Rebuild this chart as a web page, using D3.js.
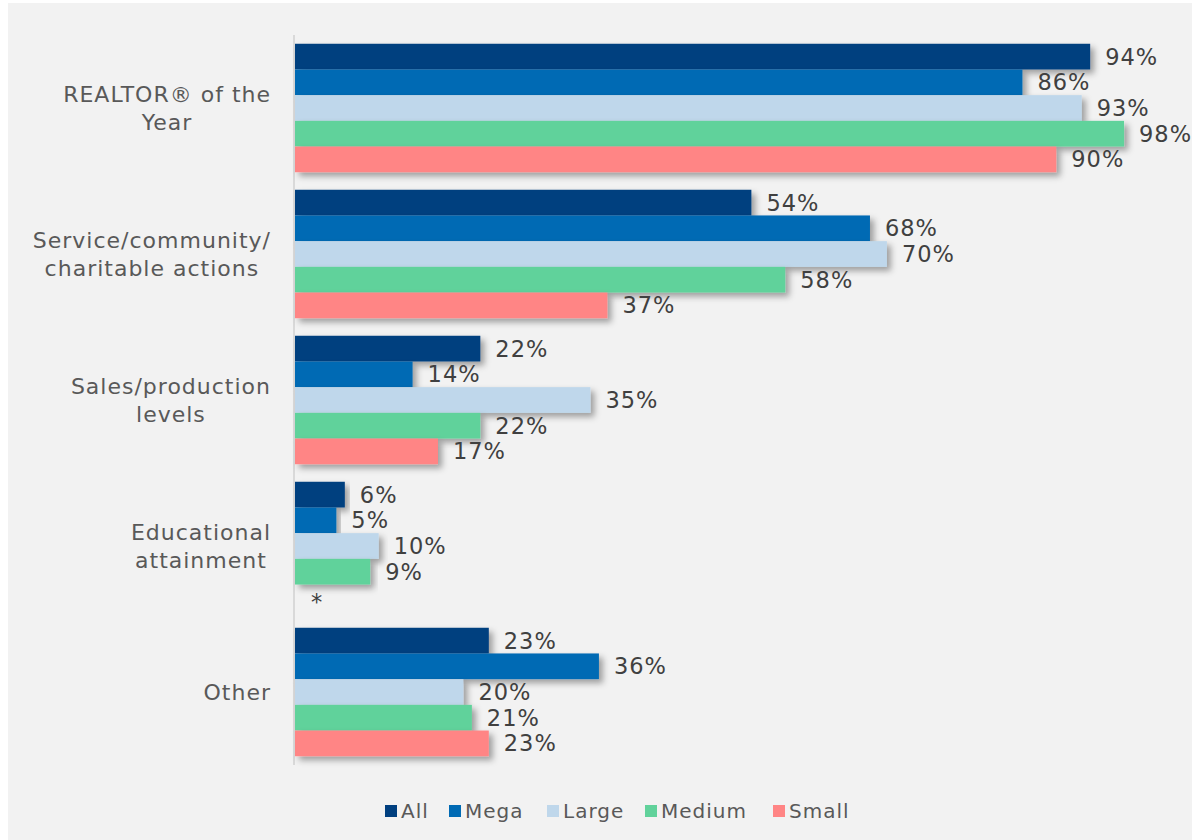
<!DOCTYPE html>
<html>
<head>
<meta charset="utf-8">
<script src="https://cdn.jsdelivr.net/npm/d3@7/dist/d3.min.js"></script>
<style>
  html, body { margin: 0; padding: 0; background: #ffffff; }
  svg { display: block; }
  text { font-family: "DejaVu Sans", "Open Sans", sans-serif; }
</style>
</head>
<body>
<svg id="chart" width="1192" height="840"></svg>
<script>
// Categories (each label split into its display lines)
const categories = ["REALTOR® of the Year", "Service/community/ charitable actions", "Sales/production levels", "Educational attainment", "Other"];
const categoryLines = [
  ["REALTOR® of the", "Year"],
  ["Service/community/", "charitable actions"],
  ["Sales/production", "levels"],
  ["Educational", "attainment"],
  ["Other"]
];

// Series (firm size), percentages per category; null = fewer responses than reportable (*)
const seriesNames = ["All", "Mega", "Large", "Medium", "Small"];
const allValues    = [94, 54, 22, 6, 23];
const megaValues   = [86, 68, 14, 5, 36];
const largeValues  = [93, 70, 35, 10, 20];
const mediumValues = [98, 58, 22, 9, 21];
const smallValues  = [90, 37, 17, null, 23];
const seriesColors = ["#003f7f", "#006ab4", "#bfd7eb", "#61d29b", "#ff8585"];

const seriesValues = [allValues, megaValues, largeValues, mediumValues, smallValues];

const svg = d3.select("#chart");
const W = 1192, H = 840;

// Panel background
svg.append("rect").attr("x", 8).attr("y", 3).attr("width", W - 8).attr("height", H - 3).attr("fill", "#f2f2f2");

// Drop shadow for bars
const defs = svg.append("defs");
const f = defs.append("filter").attr("id", "shadow").attr("x", "-5%").attr("y", "-30%").attr("width", "115%").attr("height", "180%");
f.append("feDropShadow").attr("dx", 4).attr("dy", 4).attr("stdDeviation", 3)
  .attr("flood-color", "#000").attr("flood-opacity", 0.35);

const x = d3.scaleLinear().domain([0, 100]).range([294, 1141]);
const y = d3.scaleBand().domain(categories).range([35, 765]).paddingInner(0.12).paddingOuter(0.06);
const ySub = d3.scaleBand().domain(seriesNames).range([0, y.bandwidth()]);

// Axis line
svg.append("line").attr("x1", x(0)).attr("x2", x(0)).attr("y1", 35).attr("y2", 765)
  .attr("stroke", "#d9d9d9").attr("stroke-width", 2);

// Bars and value labels
const groups = svg.selectAll("g.cat").data(categories).join("g")
  .attr("class", "cat")
  .attr("transform", d => `translate(0,${y(d)})`);

groups.each(function(cat, ci) {
  const g = d3.select(this);
  const rows = seriesNames.map((s, si) => ({ s, si, v: seriesValues[si][ci] }));
  g.selectAll("rect").data(rows.filter(r => r.v != null)).join("rect")
    .attr("x", x(0) + 1)
    .attr("y", r => ySub(r.s))
    .attr("width", r => x(r.v) - x(0) - 1)
    .attr("height", ySub.bandwidth())
    .attr("fill", r => seriesColors[r.si])
    .attr("filter", "url(#shadow)");
  g.selectAll("text.val").data(rows).join("text")
    .attr("class", "val")
    .attr("x", r => r.v != null ? x(r.v) + 15 : x(0) + 23)
    .attr("y", r => ySub(r.s) + ySub.bandwidth() / 2 + (r.v != null ? 8 : 13))
    .attr("text-anchor", r => r.v != null ? "start" : "middle")
    .attr("font-size", 22.5)
    .attr("letter-spacing", 1)
    .attr("fill", "#404040")
    .text(r => r.v != null ? r.v + "%" : "*");
});

// Category labels: lines centred within a block right-aligned near the axis
const labelRight = 271;
categories.forEach((cat, ci) => {
  const lines = categoryLines[ci];
  const cy = y(cat) + y.bandwidth() / 2;
  const t = svg.append("text").attr("font-size", 22).attr("letter-spacing", 1)
    .attr("fill", "#595959").attr("text-anchor", "middle");
  const lh = 28;
  const spans = lines.map((ln, i) => t.append("tspan")
    .attr("y", cy + (i - (lines.length - 1) / 2) * lh + 8)
    .text(ln));
  const maxW = d3.max(spans, s => s.node().getComputedTextLength());
  spans.forEach(s => s.attr("x", labelRight - maxW / 2));
});

// Legend
const legendX = [385, 449, 547, 645, 773];
const leg = svg.append("g");
seriesNames.forEach((s, i) => {
  leg.append("rect").attr("x", legendX[i]).attr("y", 805).attr("width", 12).attr("height", 12).attr("fill", seriesColors[i]);
  leg.append("text").attr("x", legendX[i] + 16).attr("y", 818).attr("font-size", 20)
    .attr("letter-spacing", 1).attr("fill", "#595959").text(s);
});
</script>
</body>
</html>
